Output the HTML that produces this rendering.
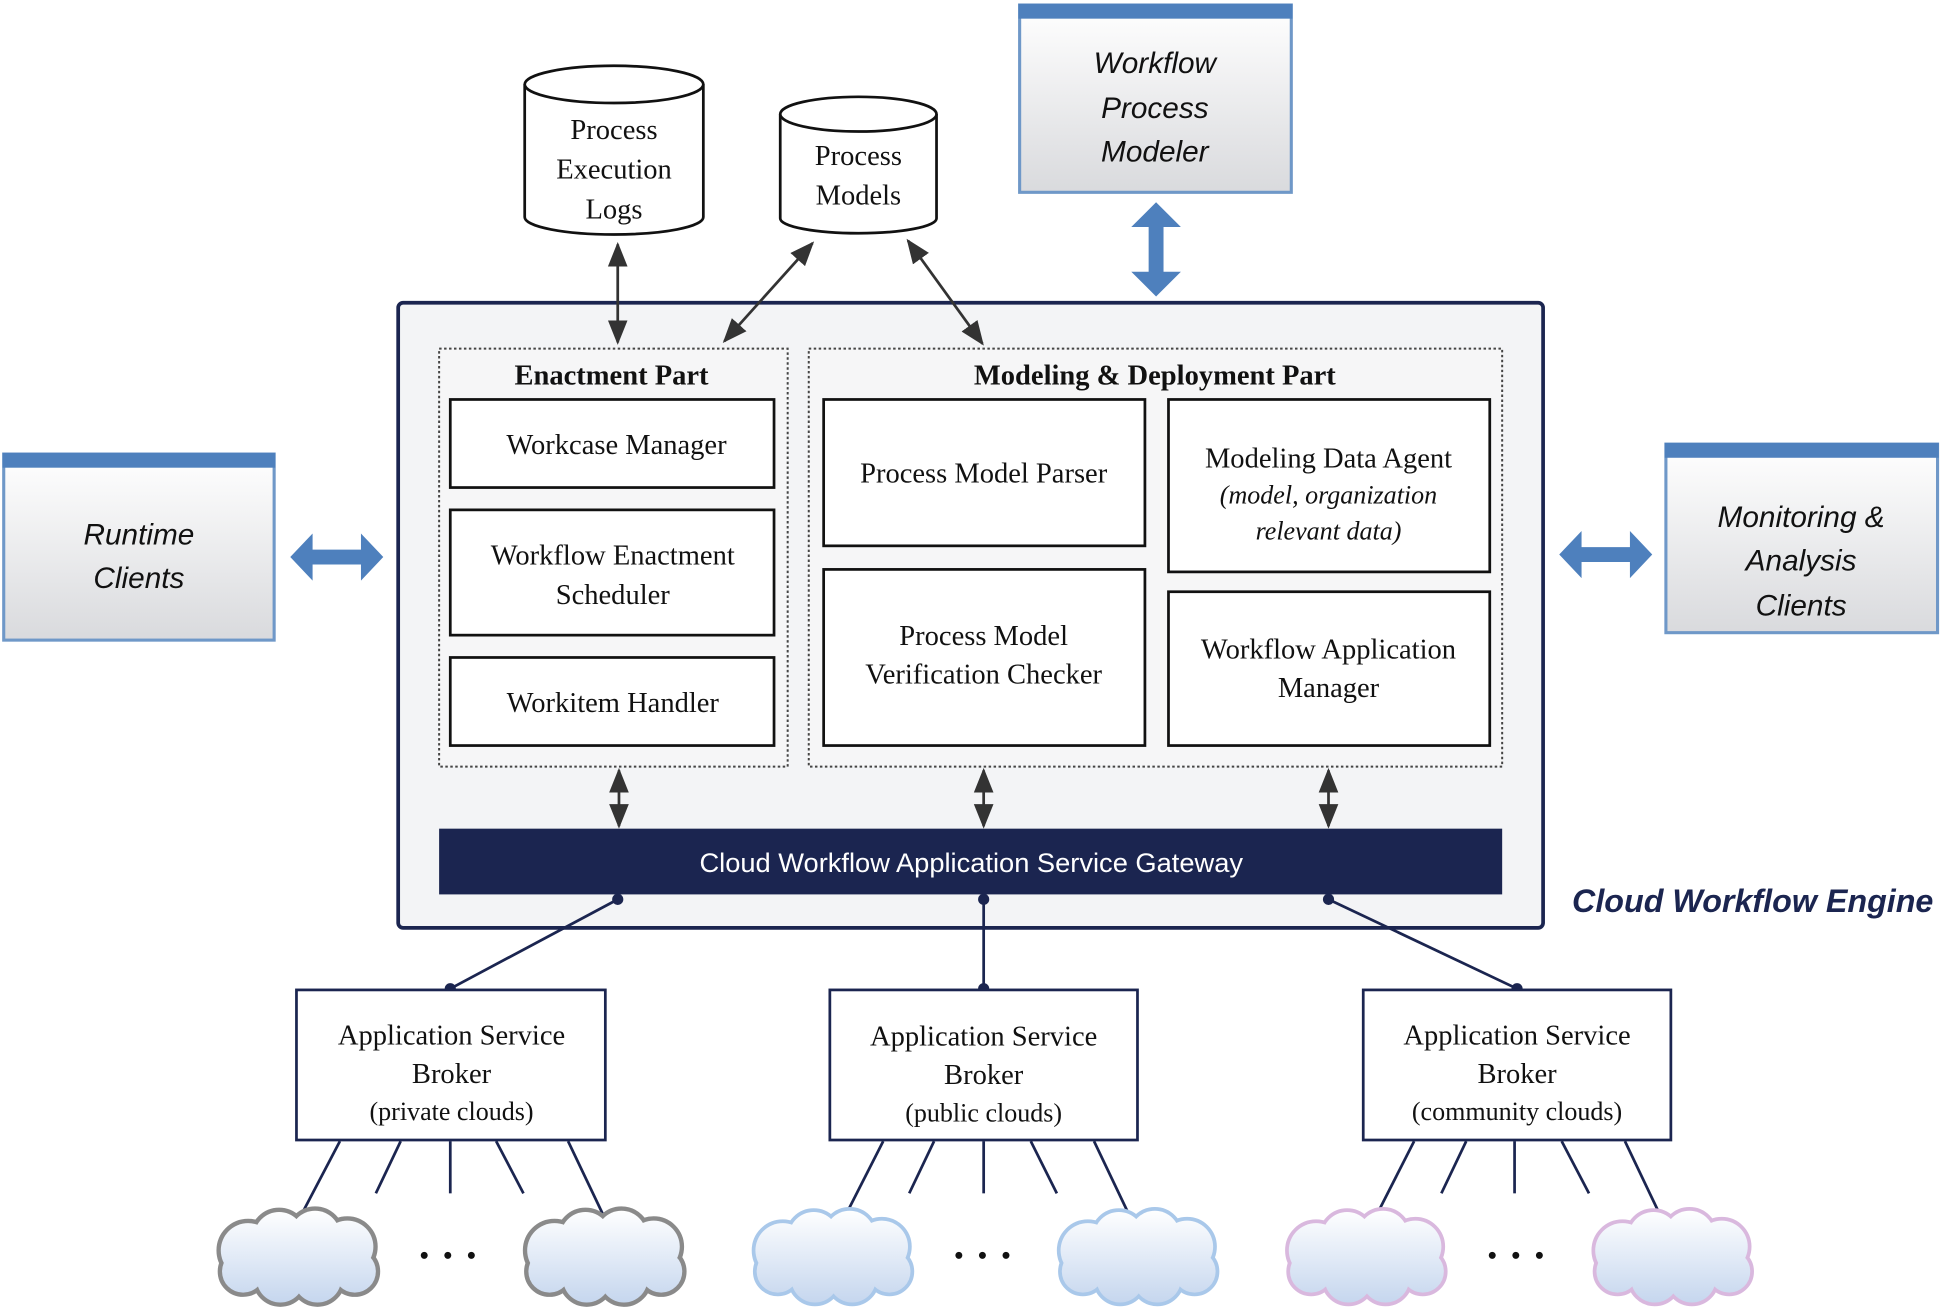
<!DOCTYPE html>
<html><head><meta charset="utf-8"><style>html,body{margin:0;padding:0;background:#fff}svg{display:block}</style></head><body>
<svg width="1945" height="1310" viewBox="0 0 1568 1056" xmlns="http://www.w3.org/2000/svg">
<defs>
<linearGradient id="bx" x1="0" y1="0" x2="0" y2="1"><stop offset="0" stop-color="#ffffff"/><stop offset="1" stop-color="#d9dadd"/></linearGradient>
<linearGradient id="cg" gradientUnits="userSpaceOnUse" x1="0" y1="-38" x2="0" y2="38"><stop offset="0" stop-color="#ffffff"/><stop offset="1" stop-color="#c5d6ee"/></linearGradient>
<marker id="ah" viewBox="0 0 10 10" refX="9" refY="5" markerWidth="9" markerHeight="9" orient="auto-start-reverse"><path d="M0,1 L10,5 L0,9 z" fill="#333"/></marker>
<g id="cloudshape">
<circle cx="-40" cy="-5" r="22"/><circle cx="-15" cy="-16" r="20"/><circle cx="14" cy="-17" r="20"/><circle cx="40" cy="-8" r="21"/><circle cx="46" cy="12" r="17"/><circle cx="16" cy="18" r="19"/><circle cx="-14" cy="18" r="19"/><circle cx="-44" cy="12" r="17"/><ellipse cx="0" cy="0" rx="45" ry="22"/>
</g>
</defs>
<style>
.s{font-family:"Liberation Serif",serif;font-size:23px;fill:#111;text-anchor:middle}
.b{font-weight:bold}
.i{font-style:italic}
.c{font-family:"Liberation Sans",sans-serif;font-style:italic;font-size:24px;fill:#111;text-anchor:middle}
.ln{stroke:#333;stroke-width:2.2;fill:none}
.nv{stroke:#1b2550;stroke-width:2.2;fill:none}
</style>

<g fill="#fff" stroke="#111" stroke-width="2.2">
<path d="M423,68 L423,175 A72,14 0 0 0 567,175 L567,68"/>
<ellipse cx="495" cy="68" rx="72" ry="15"/>
<path d="M629,92 L629,176 A63,12 0 0 0 755,176 L755,92"/>
<ellipse cx="692" cy="92" rx="63" ry="14"/>
</g>
<text class="s" x="495" y="112">Process</text>
<text class="s" x="495" y="144">Execution</text>
<text class="s" x="495" y="176">Logs</text>
<text class="s" x="692" y="133">Process</text>
<text class="s" x="692" y="165">Models</text>

<g stroke="#6f98c8" stroke-width="2.5">
<rect x="822" y="4" width="219" height="151" fill="url(#bx)"/>
<rect x="3" y="366" width="218" height="150" fill="url(#bx)"/>
<rect x="1343" y="358" width="219" height="152" fill="url(#bx)"/>
</g>
<g fill="#4e80bd">
<rect x="821" y="3" width="221" height="12"/>
<rect x="2" y="365" width="220" height="12"/>
<rect x="1342" y="357" width="221" height="12"/>
</g>
<text class="c" x="931" y="59">Workflow</text>
<text class="c" x="931" y="95">Process</text>
<text class="c" x="931" y="130">Modeler</text>
<text class="c" x="112" y="439">Runtime</text>
<text class="c" x="112" y="474">Clients</text>
<text class="c" x="1452" y="425">Monitoring &amp;</text>
<text class="c" x="1452" y="460">Analysis</text>
<text class="c" x="1452" y="496">Clients</text>

<g fill="#4e80bd">
<path d="M234,449 L252,430 L252,443 L291,443 L291,430 L309,449 L291,468 L291,455 L252,455 L252,468 z"/>
<path d="M1257,447 L1275,428 L1275,441 L1314,441 L1314,428 L1332,447 L1314,466 L1314,453 L1275,453 L1275,466 z"/>
<path d="M932,163 L952,183 L938,183 L938,219 L952,219 L932,239 L912,219 L926,219 L926,183 L912,183 z"/>
</g>

<rect x="321" y="244" width="923" height="504" rx="4" fill="#f3f4f6" stroke="#1b2550" stroke-width="3"/>
<rect x="354" y="281" width="281" height="337" fill="#f6f6f7" stroke="#444" stroke-width="1.6" stroke-dasharray="2,2"/>
<rect x="652" y="281" width="559" height="337" fill="#f6f6f7" stroke="#444" stroke-width="1.6" stroke-dasharray="2,2"/>
<text class="s b" x="493" y="310">Enactment Part</text>
<text class="s b" x="931" y="310">Modeling &amp; Deployment Part</text>
<g fill="#fff" stroke="#111" stroke-width="2.2">
<rect x="363" y="322" width="261" height="71"/>
<rect x="363" y="411" width="261" height="101"/>
<rect x="363" y="530" width="261" height="71"/>
<rect x="664" y="322" width="259" height="118"/>
<rect x="942" y="322" width="259" height="139"/>
<rect x="664" y="459" width="259" height="142"/>
<rect x="942" y="477" width="259" height="124"/>
</g>
<text class="s" x="497" y="366">Workcase Manager</text>
<text class="s" x="494" y="455">Workflow Enactment</text>
<text class="s" x="494" y="487">Scheduler</text>
<text class="s" x="494" y="574">Workitem Handler</text>
<text class="s" x="793" y="389">Process Model Parser</text>
<text class="s" x="1071" y="377">Modeling Data Agent</text>
<text class="s i" x="1071" y="406" style="font-size:21px">(model, organization</text>
<text class="s i" x="1071" y="435" style="font-size:21px">relevant data)</text>
<text class="s" x="793" y="520">Process Model</text>
<text class="s" x="793" y="551">Verification Checker</text>
<text class="s" x="1071" y="531">Workflow Application</text>
<text class="s" x="1071" y="562">Manager</text>

<rect x="354" y="668" width="857" height="53" fill="#1b2550"/>
<text x="783" y="703" style="font-family:'Liberation Sans',sans-serif;font-size:22px;fill:#fff;text-anchor:middle">Cloud Workflow Application Service Gateway</text>
<text x="1413" y="735" style="font-family:'Liberation Sans',sans-serif;font-size:26px;font-weight:bold;font-style:italic;fill:#1b2550;text-anchor:middle">Cloud Workflow Engine</text>

<g class="ln" marker-start="url(#ah)" marker-end="url(#ah)">
<line x1="498" y1="197" x2="498" y2="276"/>
<line x1="655" y1="196" x2="584" y2="275"/>
<line x1="732" y1="194" x2="792" y2="277"/>
<line x1="499" y1="621" x2="499" y2="666"/>
<line x1="793" y1="621" x2="793" y2="666"/>
<line x1="1071" y1="621" x2="1071" y2="666"/>
</g>

<g class="nv">
<line x1="498" y1="725" x2="363" y2="797"/>
<line x1="793" y1="725" x2="793" y2="797"/>
<line x1="1071" y1="725" x2="1223" y2="797"/>
</g>
<g fill="#1b2550">
<circle cx="498" cy="725" r="4.5"/><circle cx="793" cy="725" r="4.5"/><circle cx="1071" cy="725" r="4.5"/>
<circle cx="363" cy="797" r="4.5"/><circle cx="793" cy="797" r="4.5"/><circle cx="1223" cy="797" r="4.5"/>
</g>

<g fill="#fff" stroke="#1b2550" stroke-width="2.2">
<rect x="239" y="798" width="249" height="121"/>
<rect x="669" y="798" width="248" height="121"/>
<rect x="1099" y="798" width="248" height="121"/>
</g>
<text class="s" x="364" y="842">Application Service</text>
<text class="s" x="364" y="873">Broker</text>
<text class="s" x="364" y="903" style="font-size:21px">(private clouds)</text>
<text class="s" x="793" y="843">Application Service</text>
<text class="s" x="793" y="874">Broker</text>
<text class="s" x="793" y="904" style="font-size:21px">(public clouds)</text>
<text class="s" x="1223" y="842">Application Service</text>
<text class="s" x="1223" y="873">Broker</text>
<text class="s" x="1223" y="903" style="font-size:21px">(community clouds)</text>

<g class="nv">
<line x1="274" y1="920" x2="241" y2="983"/><line x1="323" y1="920" x2="303" y2="962"/><line x1="363" y1="920" x2="363" y2="962"/><line x1="400" y1="920" x2="422" y2="962"/><line x1="458" y1="920" x2="488" y2="983"/>
<line x1="712" y1="920" x2="680" y2="983"/><line x1="753" y1="920" x2="733" y2="962"/><line x1="793" y1="920" x2="793" y2="962"/><line x1="831" y1="920" x2="852" y2="962"/><line x1="882" y1="920" x2="912" y2="983"/>
<line x1="1140" y1="920" x2="1108" y2="983"/><line x1="1182" y1="920" x2="1162" y2="962"/><line x1="1221" y1="920" x2="1221" y2="962"/><line x1="1259" y1="920" x2="1281" y2="962"/><line x1="1310" y1="920" x2="1340" y2="983"/>
</g>

<g>
<g transform="translate(240,1013)"><use href="#cloudshape" fill="#8a8a8a" stroke="#8a8a8a" stroke-width="7"/><use href="#cloudshape" fill="url(#cg)"/></g>
<g transform="translate(487,1013)"><use href="#cloudshape" fill="#8a8a8a" stroke="#8a8a8a" stroke-width="7"/><use href="#cloudshape" fill="url(#cg)"/></g>
<g transform="translate(671,1013)"><use href="#cloudshape" fill="#a9c8ea" stroke="#a9c8ea" stroke-width="6"/><use href="#cloudshape" fill="url(#cg)"/></g>
<g transform="translate(917,1013)"><use href="#cloudshape" fill="#a9c8ea" stroke="#a9c8ea" stroke-width="6"/><use href="#cloudshape" fill="url(#cg)"/></g>
<g transform="translate(1101,1013)"><use href="#cloudshape" fill="#d9b8de" stroke="#d9b8de" stroke-width="6"/><use href="#cloudshape" fill="url(#cg)"/></g>
<g transform="translate(1348,1013)"><use href="#cloudshape" fill="#d9b8de" stroke="#d9b8de" stroke-width="6"/><use href="#cloudshape" fill="url(#cg)"/></g>
</g>
<g fill="#111">
<circle cx="342" cy="1012" r="2.8"/><circle cx="361" cy="1012" r="2.8"/><circle cx="380" cy="1012" r="2.8"/>
<circle cx="773" cy="1012" r="2.8"/><circle cx="792" cy="1012" r="2.8"/><circle cx="811" cy="1012" r="2.8"/>
<circle cx="1203" cy="1012" r="2.8"/><circle cx="1222" cy="1012" r="2.8"/><circle cx="1241" cy="1012" r="2.8"/>
</g>
</svg>
</body></html>
